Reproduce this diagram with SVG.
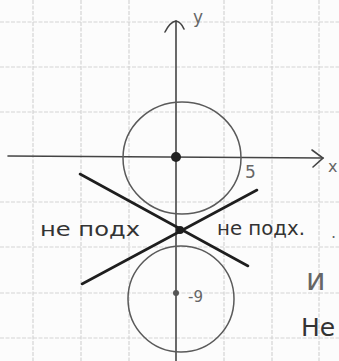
<svg xmlns="http://www.w3.org/2000/svg" width="339" height="361" viewBox="0 0 339 361">
<style>
.grid{stroke:#d4d4d4;stroke-width:1.2;stroke-dasharray:4 1.5}
.axis{stroke:#444;stroke-width:1.6;fill:none;stroke-linecap:round}
.circ{stroke:#5a5a5a;stroke-width:1.5;fill:none}
.tan{stroke:#1e1e1e;stroke-width:2.6;stroke-linecap:round}
.hand{font-family:"DejaVu Sans",sans-serif;fill:#333}
.lab{font-family:"DejaVu Sans",sans-serif;fill:#666}
</style>
<rect width="339" height="361" fill="#fcfcfc"/>
<g id="grid">
<line class="grid" x1="33" y1="0" x2="33" y2="361"/>
<line class="grid" x1="81" y1="0" x2="81" y2="361"/>
<line class="grid" x1="129" y1="0" x2="129" y2="361"/>
<line class="grid" x1="224" y1="0" x2="224" y2="361"/>
<line class="grid" x1="272" y1="0" x2="272" y2="361"/>
<line class="grid" x1="319" y1="0" x2="319" y2="361"/>
<line class="grid" x1="0" y1="22" x2="339" y2="22"/>
<line class="grid" x1="0" y1="67" x2="339" y2="67"/>
<line class="grid" x1="0" y1="112" x2="339" y2="112"/>
<line class="grid" x1="0" y1="202" x2="339" y2="202"/>
<line class="grid" x1="0" y1="247" x2="339" y2="247"/>
<line class="grid" x1="0" y1="293" x2="339" y2="293"/>
<line class="grid" x1="0" y1="338" x2="339" y2="338"/>
</g>
<g id="axes">
<line class="axis" x1="176" y1="21" x2="176" y2="361"/>
<path class="axis" d="M165 32 Q170 22 176 21 Q181 22 184 29"/>
<line class="axis" x1="8" y1="156" x2="323" y2="158"/>
<path class="axis" d="M312 150 L323 158 L313 167"/>
<text class="lab" x="193" y="23" font-size="17">y</text>
<text class="lab" x="328" y="172" font-size="16">x</text>
<text class="lab" x="245" y="178" font-size="17">5</text>
<text class="lab" x="188" y="302" font-size="15">-9</text>
</g>
<g id="circles">
<ellipse class="circ" cx="182" cy="158" rx="59" ry="56"/>
<ellipse class="circ" cx="181" cy="299" rx="53" ry="53"/>
<circle cx="176" cy="157" r="5" fill="#222"/>
<circle cx="176" cy="293" r="3" fill="#555"/>
</g>
<g id="tangents">
<line class="tan" x1="80" y1="174" x2="248" y2="266"/>
<line class="tan" x1="82" y1="284" x2="257" y2="190"/>
<circle cx="180" cy="230" r="4" fill="#1e1e1e"/>
</g>
<g id="labels">
<text class="hand" x="40" y="236" font-size="19" textLength="100" lengthAdjust="spacingAndGlyphs">не подх</text>
<text class="hand" x="217" y="235" font-size="19" textLength="88" lengthAdjust="spacingAndGlyphs">не подх.</text>
<text class="lab" x="331" y="238" font-size="16">.</text>
<text class="lab" x="306" y="290" font-size="30">и</text>
<text class="hand" x="301" y="336" font-size="25">Не</text>
</g>
</svg>
